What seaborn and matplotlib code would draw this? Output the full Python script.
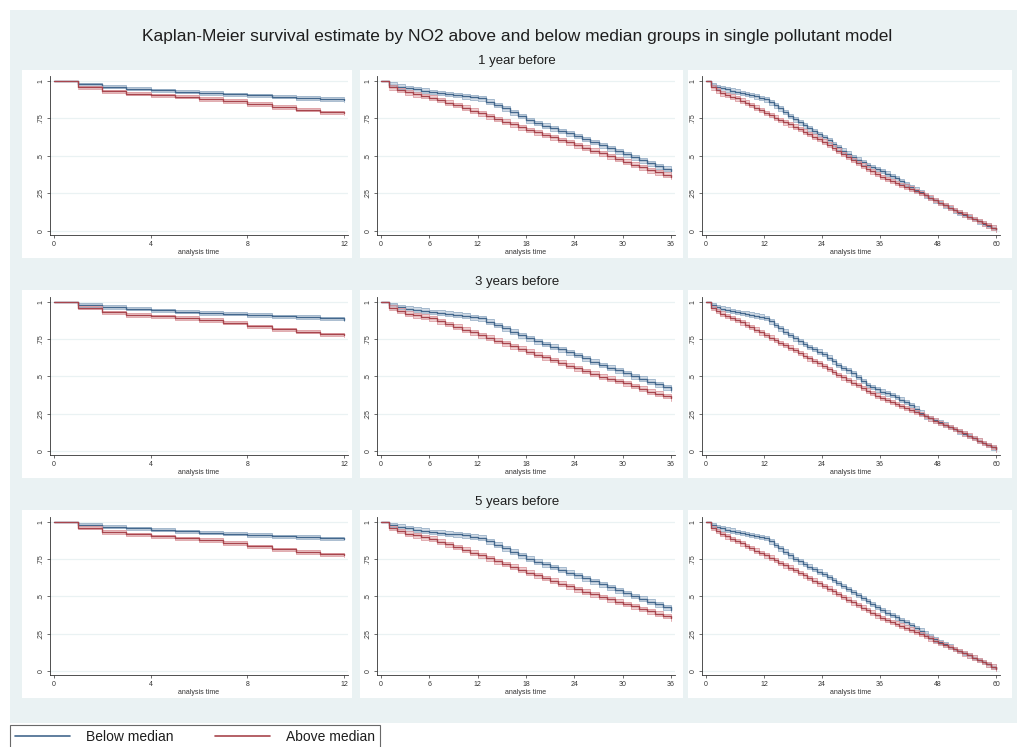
import matplotlib
matplotlib.use("Agg")
import matplotlib.pyplot as plt
from matplotlib.lines import Line2D
from matplotlib.patches import Rectangle
import numpy as np
import seaborn as sns

# ----------------------------------------------------------------------------
# Data: monthly Kaplan-Meier survival (value at month k
# holds on [k, k+1)). Rows = exposure window, columns = follow-up length.
# ----------------------------------------------------------------------------

below_1y_12 = [1.000, 0.978, 0.962, 0.949, 0.938, 0.929, 0.920, 0.911, 0.904, 0.895, 0.886, 0.880, 0.873]
above_1y_12 = [1.000, 0.958, 0.931, 0.915, 0.904, 0.895, 0.880, 0.866, 0.846, 0.826, 0.808, 0.791, 0.784]
below_3y_12 = [1.000, 0.980, 0.966, 0.955, 0.944, 0.935, 0.926, 0.920, 0.913, 0.904, 0.898, 0.889, 0.882]
above_3y_12 = [1.000, 0.962, 0.931, 0.913, 0.904, 0.893, 0.878, 0.860, 0.837, 0.817, 0.800, 0.782, 0.775]
below_5y_12 = [1.000, 0.982, 0.969, 0.958, 0.947, 0.936, 0.929, 0.920, 0.913, 0.904, 0.898, 0.891, 0.887]
above_5y_12 = [1.000, 0.962, 0.933, 0.916, 0.904, 0.891, 0.878, 0.858, 0.836, 0.816, 0.798, 0.782, 0.776]

below_1y_36 = [1.000, 0.975, 0.963, 0.953, 0.944, 0.935, 0.927, 0.920, 0.913, 0.906, 0.899, 0.892,
               0.884, 0.863, 0.840, 0.817, 0.792, 0.766, 0.739, 0.720, 0.702, 0.684, 0.667, 0.650,
               0.633, 0.613, 0.593, 0.572, 0.551, 0.530, 0.510, 0.490, 0.470, 0.450, 0.432, 0.415, 0.399]
above_1y_36 = [1.000, 0.958, 0.940, 0.924, 0.912, 0.900, 0.889, 0.873, 0.856, 0.840, 0.821, 0.803,
               0.784, 0.765, 0.747, 0.728, 0.710, 0.691, 0.673, 0.657, 0.640, 0.624, 0.607, 0.590,
               0.572, 0.554, 0.536, 0.517, 0.499, 0.480, 0.461, 0.442, 0.424, 0.405, 0.390, 0.375, 0.361]
below_3y_36 = [1.000, 0.978, 0.966, 0.955, 0.947, 0.940, 0.933, 0.927, 0.921, 0.915, 0.907, 0.898,
               0.889, 0.867, 0.845, 0.822, 0.800, 0.777, 0.755, 0.736, 0.718, 0.699, 0.681, 0.662,
               0.644, 0.622, 0.600, 0.577, 0.558, 0.540, 0.521, 0.502, 0.484, 0.465, 0.447, 0.428, 0.410]
above_3y_36 = [1.000, 0.960, 0.940, 0.922, 0.911, 0.900, 0.889, 0.870, 0.852, 0.833, 0.814, 0.796,
               0.777, 0.759, 0.740, 0.722, 0.703, 0.685, 0.666, 0.647, 0.629, 0.610, 0.592, 0.573,
               0.555, 0.536, 0.518, 0.499, 0.484, 0.469, 0.454, 0.436, 0.417, 0.399, 0.384, 0.369, 0.354]
below_5y_36 = [1.000, 0.979, 0.967, 0.956, 0.948, 0.940, 0.933, 0.927, 0.922, 0.916, 0.909, 0.901,
               0.893, 0.870, 0.847, 0.823, 0.800, 0.776, 0.753, 0.734, 0.716, 0.697, 0.679, 0.660,
               0.642, 0.622, 0.602, 0.582, 0.562, 0.542, 0.522, 0.503, 0.484, 0.465, 0.446, 0.428, 0.409]
above_5y_36 = [1.000, 0.959, 0.939, 0.921, 0.909, 0.898, 0.887, 0.868, 0.850, 0.831, 0.813, 0.794,
               0.776, 0.757, 0.737, 0.718, 0.699, 0.679, 0.660, 0.642, 0.623, 0.605, 0.586, 0.568,
               0.549, 0.532, 0.515, 0.497, 0.481, 0.465, 0.449, 0.433, 0.416, 0.400, 0.384, 0.369, 0.353]

below_1y_60 = [1.000, 0.973, 0.961, 0.951, 0.944, 0.936, 0.929, 0.921, 0.914, 0.906, 0.897, 0.887,
               0.877, 0.857, 0.837, 0.817, 0.793, 0.768, 0.744, 0.724, 0.704, 0.684, 0.665, 0.647,
               0.628, 0.604, 0.581, 0.557, 0.536, 0.515, 0.494, 0.476, 0.457, 0.439, 0.426, 0.412,
               0.399, 0.383, 0.366, 0.350, 0.331, 0.313, 0.294, 0.275, 0.257, 0.238, 0.221, 0.204,
               0.187, 0.171, 0.154, 0.138, 0.123, 0.109, 0.094, 0.079, 0.064, 0.049, 0.036, 0.022, 0.009]
above_1y_60 = [1.000, 0.958, 0.937, 0.918, 0.907, 0.895, 0.884, 0.869, 0.855, 0.840, 0.823, 0.805,
               0.788, 0.772, 0.755, 0.739, 0.724, 0.710, 0.695, 0.679, 0.662, 0.646, 0.629, 0.612,
               0.595, 0.575, 0.555, 0.535, 0.514, 0.493, 0.472, 0.453, 0.435, 0.416, 0.398, 0.379,
               0.361, 0.348, 0.334, 0.321, 0.308, 0.296, 0.283, 0.268, 0.253, 0.240, 0.223, 0.206,
               0.189, 0.172, 0.156, 0.140, 0.125, 0.110, 0.096, 0.081, 0.066, 0.051, 0.037, 0.023, 0.010]
below_3y_60 = [1.000, 0.978, 0.966, 0.955, 0.948, 0.940, 0.933, 0.927, 0.921, 0.915, 0.908, 0.901,
               0.893, 0.869, 0.846, 0.822, 0.800, 0.777, 0.755, 0.736, 0.718, 0.699, 0.683, 0.666,
               0.650, 0.626, 0.601, 0.577, 0.558, 0.540, 0.521, 0.495, 0.469, 0.443, 0.428, 0.414,
               0.399, 0.386, 0.374, 0.361, 0.344, 0.327, 0.310, 0.284, 0.258, 0.232, 0.219, 0.205,
               0.192, 0.177, 0.162, 0.147, 0.132, 0.117, 0.102, 0.086, 0.069, 0.053, 0.039, 0.024, 0.009]
above_3y_60 = [1.000, 0.960, 0.940, 0.922, 0.907, 0.893, 0.878, 0.863, 0.848, 0.833, 0.814, 0.796,
               0.777, 0.760, 0.743, 0.726, 0.710, 0.693, 0.677, 0.658, 0.640, 0.621, 0.604, 0.587,
               0.570, 0.550, 0.530, 0.510, 0.493, 0.476, 0.459, 0.441, 0.423, 0.405, 0.388, 0.371,
               0.354, 0.341, 0.329, 0.316, 0.303, 0.289, 0.276, 0.261, 0.247, 0.233, 0.218, 0.203,
               0.189, 0.175, 0.162, 0.148, 0.133, 0.118, 0.103, 0.087, 0.070, 0.054, 0.040, 0.025, 0.010]
below_5y_60 = [1.000, 0.979, 0.967, 0.956, 0.948, 0.941, 0.933, 0.927, 0.920, 0.914, 0.907, 0.900,
               0.893, 0.870, 0.846, 0.823, 0.800, 0.776, 0.753, 0.735, 0.717, 0.700, 0.683, 0.666,
               0.649, 0.629, 0.609, 0.590, 0.570, 0.551, 0.531, 0.510, 0.490, 0.470, 0.450, 0.429,
               0.409, 0.392, 0.376, 0.359, 0.342, 0.326, 0.309, 0.289, 0.270, 0.251, 0.232, 0.212,
               0.193, 0.178, 0.163, 0.148, 0.134, 0.119, 0.104, 0.089, 0.074, 0.059, 0.045, 0.030, 0.016]
above_5y_60 = [1.000, 0.959, 0.938, 0.919, 0.903, 0.887, 0.871, 0.856, 0.840, 0.824, 0.808, 0.792,
               0.776, 0.760, 0.743, 0.726, 0.709, 0.693, 0.676, 0.658, 0.641, 0.623, 0.606, 0.588,
               0.571, 0.552, 0.534, 0.515, 0.497, 0.478, 0.460, 0.443, 0.425, 0.408, 0.391, 0.373,
               0.356, 0.343, 0.330, 0.317, 0.304, 0.291, 0.278, 0.263, 0.248, 0.233, 0.218, 0.204,
               0.189, 0.175, 0.161, 0.147, 0.133, 0.118, 0.104, 0.089, 0.074, 0.059, 0.045, 0.030, 0.016]

# approx. half-width of the 95% CI band per follow-up length
ci_halfwidth = [0.011, 0.016, 0.015]
followup_months = [12, 36, 60]
xtick_steps = [4, 6, 12]

row_titles = ["1 year before", "3 years before", "5 years before"]
group_labels = ["Below median", "Above median"]
title = ("Kaplan-Meier survival estimate by NO2 above and below median groups "
         "in single pollutant model")

panels = [
    [(below_1y_12, above_1y_12), (below_1y_36, above_1y_36), (below_1y_60, above_1y_60)],
    [(below_3y_12, above_3y_12), (below_3y_36, above_3y_36), (below_3y_60, above_3y_60)],
    [(below_5y_12, above_5y_12), (below_5y_36, above_5y_36), (below_5y_60, above_5y_60)],
]

# ----------------------------------------------------------------------------
# Style (Stata s2color look)
# ----------------------------------------------------------------------------

BLUE, BLUE_BAND, BLUE_EDGE = "#44688d", "#c3d1df", "#9db3c9"
RED, RED_BAND, RED_EDGE = "#a8454d", "#eec3c6", "#dc9da2"
GRAPH_BG = "#eaf2f3"
TEXT = "#1e1e1e"

W, H = 1017, 747


def px_rect(x0, y0, x1, y1):
    """Pixel box measured from the top-left -> figure fraction rect."""
    return [x0 / W, 1 - y1 / H, (x1 - x0) / W, (y1 - y0) / H]


def draw_panel(ax, below, above, hw, months, step):
    for surv, line_c, band_c, edge_c in ((below, BLUE, BLUE_BAND, BLUE_EDGE),
                                         (above, RED, RED_BAND, RED_EDGE)):
        s = np.asarray(surv)
        assert len(s) == months + 1
        t = np.arange(len(s))
        lo, hi = s[1:] - hw, np.minimum(s[1:] + hw, 1.0)
        ax.fill_between(t[1:], lo, hi, step="post", color=band_c, alpha=0.75, lw=0)
        ax.step(t[1:], lo, where="post", color=edge_c, lw=0.6)
        ax.step(t[1:], hi, where="post", color=edge_c, lw=0.6)
        sns.lineplot(x=t, y=s, ax=ax, drawstyle="steps-post", color=line_c,
                     lw=1.0, estimator=None)

    pad = months * 0.0135
    ax.set_xlim(-pad, months + pad)
    ax.set_ylim(-0.027, 1.033)
    ax.set_xticks(np.arange(0, months + 1, step))
    ax.set_yticks([0, 0.25, 0.5, 0.75, 1])
    ax.set_yticklabels(["0", ".25", ".5", ".75", "1"], rotation=90, va="center")
    ax.tick_params(axis="both", length=2.5, width=0.5, pad=1.5,
                   labelsize=5, colors="#333333", direction="out",
                   left=True, bottom=True)
    ax.grid(axis="y", color=GRAPH_BG, lw=0.9)
    ax.grid(axis="x", visible=False)
    ax.set_axisbelow(True)
    for side in ("top", "right"):
        ax.spines[side].set_visible(False)
    for side in ("left", "bottom"):
        ax.spines[side].set_color("#333333")
        ax.spines[side].set_linewidth(0.6)
    ax.set_xlabel("analysis time", fontsize=5, labelpad=1, color="#333333")
    ax.set_ylabel("")
    ax.set_facecolor("white")


sns.set_theme(style="white")
plt.rcParams["font.family"] = ["Liberation Sans", "DejaVu Sans"]

fig = plt.figure(figsize=(W / 100, H / 100), dpi=100)
fig.patch.set_facecolor("white")

# outer graph region
bg = px_rect(10, 10, 1017, 723)
fig.add_artist(Rectangle(bg[:2], bg[2], bg[3], transform=fig.transFigure,
                         facecolor=GRAPH_BG, edgecolor="none", zorder=-3))

col_x = [(50, 348), (377, 675), (702, 1000)]
col_box = [(22, 352), (360, 683), (688, 1012)]
row_y = [(76, 235), (297, 455), (517, 675)]
row_box = [(70, 258), (290, 478), (510, 698)]
row_title_y = [61, 282, 502]

for r in range(3):
    fig.text(517 / W, 1 - row_title_y[r] / H, row_titles[r], ha="center",
             va="center", fontsize=9.5, color=TEXT)
    for c in range(3):
        bx0, bx1 = col_box[c]
        by0, by1 = row_box[r]
        box = px_rect(bx0, by0, bx1, by1)
        fig.add_artist(Rectangle(box[:2], box[2], box[3], transform=fig.transFigure,
                                 facecolor="white", edgecolor="none", zorder=-2))
        x0, x1 = col_x[c]
        y0, y1 = row_y[r]
        ax = fig.add_axes(px_rect(x0, y0, x1, y1))
        below, above = panels[r][c]
        draw_panel(ax, below, above, ci_halfwidth[c], followup_months[c], xtick_steps[c])

fig.text(517 / W, 1 - 37 / H, title, ha="center", va="center",
         fontsize=12.5, color=TEXT)

handles = [Line2D([], [], color=BLUE, lw=1.2), Line2D([], [], color=RED, lw=1.2)]
leg = fig.legend(handles, group_labels, loc="upper left",
                 bbox_to_anchor=(10 / W, 1 - 725 / H), ncol=2, frameon=True,
                 fancybox=False, fontsize=10, handlelength=4, columnspacing=3,
                 handletextpad=1.1, borderaxespad=0, borderpad=0.35)
leg.get_frame().set_edgecolor("#444444")
leg.get_frame().set_linewidth(0.8)
leg.get_frame().set_facecolor("white")
for txt in leg.get_texts():
    txt.set_color(TEXT)

fig.savefig("out.png", dpi=100)
